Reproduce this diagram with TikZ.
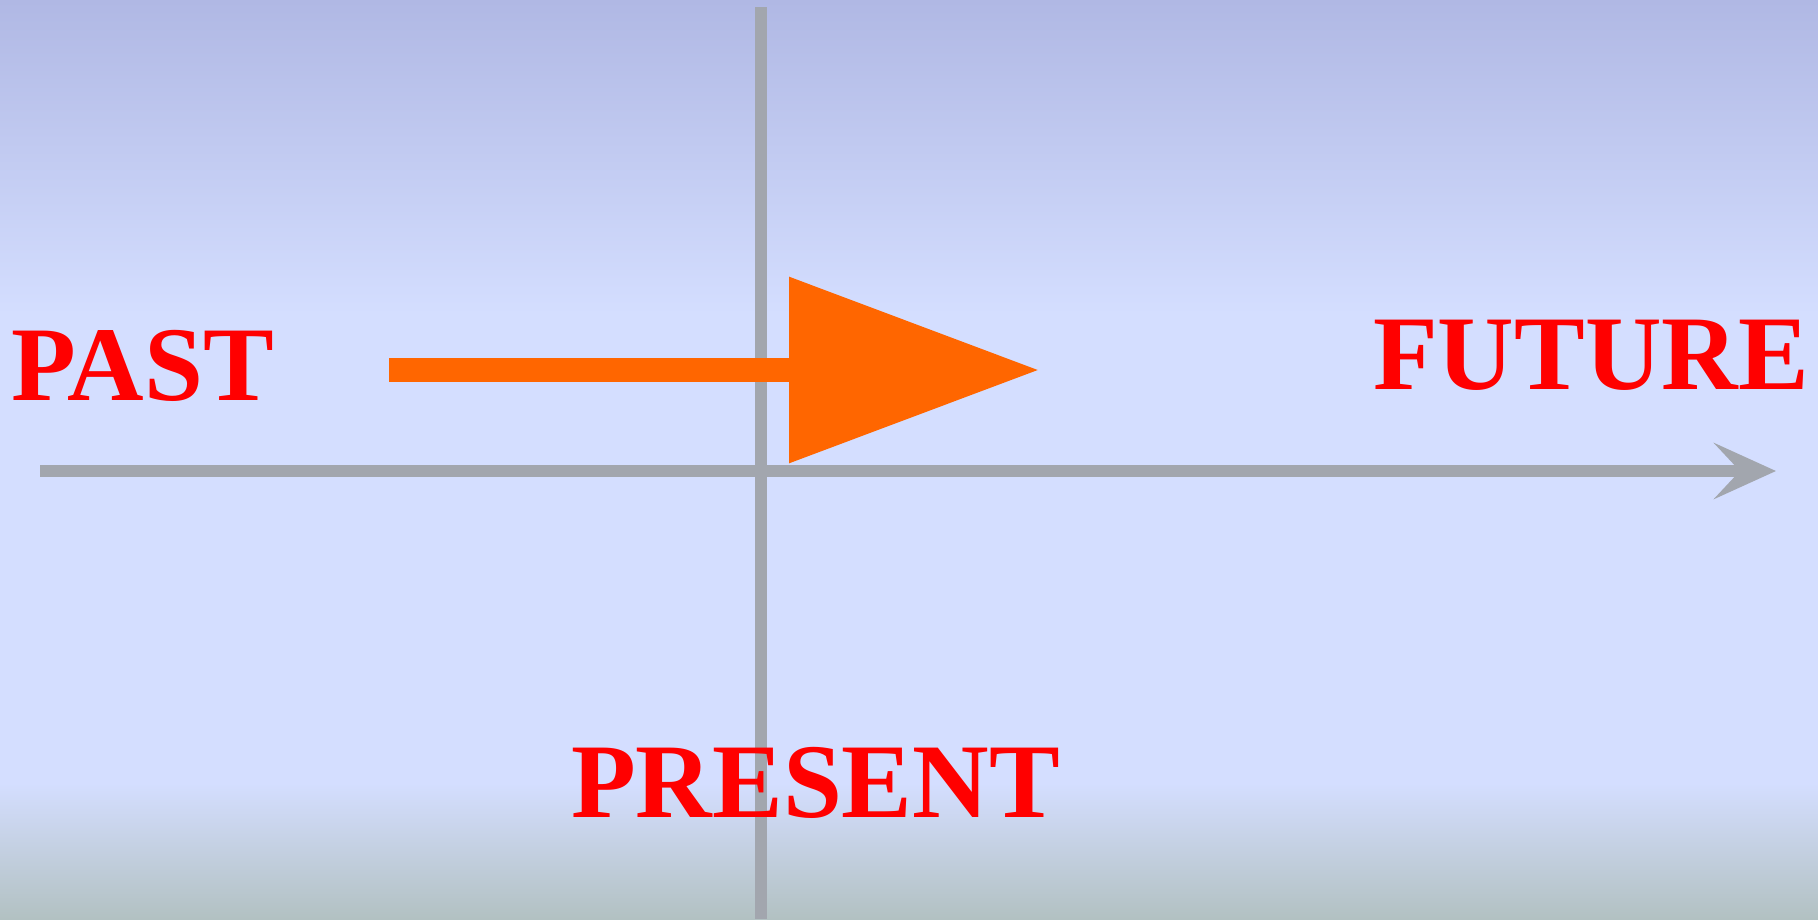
\documentclass[tikz,border=0pt]{standalone}
\usepackage{fontspec}
\setmainfont{Liberation Serif}
\usetikzlibrary{arrows.meta}
\definecolor{bgtop}{RGB}{176,184,228}
\definecolor{bgmid}{RGB}{212,222,255}
\definecolor{bgbot}{RGB}{178,193,194}
\definecolor{axisgray}{RGB}{162,166,174}
\definecolor{arroworange}{RGB}{255,102,0}
\definecolor{labelred}{RGB}{255,0,0}
\tikzset{
  label/.style={inner sep=0pt, outer sep=0pt, text=labelred, font=\fontsize{106}{106}\selectfont\bfseries},
  axis/.style={draw=axisgray, line width=12pt},
  timearrow/.style={draw=arroworange, line width=24pt}
}
\begin{document}
\begin{tikzpicture}[x=1pt,y=-1pt]
\useasboundingbox (0,0) rectangle (1818,919);
% background
\shade[top color=bgtop, bottom color=bgmid] (0,0) rectangle (1818,315);
\fill[bgmid] (0,315) rectangle (1818,783);
\shade[top color=bgmid, bottom color=bgbot] (0,783) rectangle (1818,919);
% coordinates
\coordinate (vtop) at (761,7);
\coordinate (vbot) at (761,919);
\coordinate (hstart) at (40,471);
\coordinate (hend) at (1776,471);
\coordinate (ostart) at (389,370);
\coordinate (oend) at (1039,370);
% axes
\draw[axis] (vtop) -- (vbot);
\draw[axis, -{Stealth[length=62pt, width=56pt, inset=26pt, fill=axisgray]}] (hstart) -- (hend);
% orange arrow
\draw[timearrow, -{Triangle[length=250pt, width=180pt, fill=arroworange]}] (ostart) -- (oend);
% labels
\node[label, anchor=base west] (past) at (11,400) {PAST};
\node[label, anchor=base east] (future) at (1809,389) {FUTURE};
\node[label, anchor=base west] (present) at (571,817) {PRESENT};
\end{tikzpicture}
\end{document}
